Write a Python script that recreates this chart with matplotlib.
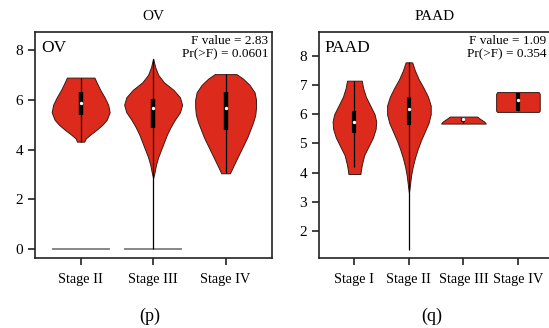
import numpy as np
from matplotlib import pyplot as plt

plt.rcParams['font.family'] = ['Liberation Serif', 'DejaVu Serif']

RED = '#dc2b1c'

# ---- OV panel data (violin profiles) ----
ov_stages = ["Stage II", "Stage III", "Stage IV"]
ov_levels = [
    [4.32, 4.45, 4.6, 4.8, 5.0, 5.2, 5.5, 5.8, 6.1, 6.4, 6.7, 6.89],
    [2.85, 3.1, 3.4, 3.7, 4.0, 4.3, 4.6, 4.9, 5.2, 5.5, 5.8, 6.1, 6.4, 6.7, 7.0, 7.3, 7.65],
    [3.05, 3.3, 3.6, 3.9, 4.2, 4.5, 4.8, 5.1, 5.4, 5.7, 6.0, 6.3, 6.6, 6.85, 7.03],
]
ov_widths = [
    [0.05, 0.07, 0.13, 0.22, 0.30, 0.36, 0.40, 0.38, 0.33, 0.27, 0.22, 0.19],
    [0.0, 0.02, 0.04, 0.07, 0.11, 0.15, 0.19, 0.24, 0.30, 0.37, 0.40, 0.37, 0.28, 0.15, 0.07, 0.03, 0.0],
    [0.06, 0.10, 0.15, 0.20, 0.25, 0.30, 0.34, 0.38, 0.41, 0.42, 0.42, 0.40, 0.33, 0.24, 0.15],
]
ov_q1 = [5.40, 4.88, 4.79]
ov_med = [5.86, 5.68, 5.66]
ov_q3 = [6.30, 6.02, 6.33]
ov_lo = [4.32, 0.0, 3.05]
ov_hi = [6.89, 7.65, 7.03]
ov_zero_lines = [True, True, False]

# ---- PAAD panel data ----
paad_stages = ["Stage I", "Stage II", "Stage III", "Stage IV"]
paad_levels = [
    [3.95, 4.1, 4.3, 4.6, 4.9, 5.2, 5.5, 5.75, 6.0, 6.3, 6.6, 6.9, 7.15],
    [3.3, 3.6, 3.9, 4.2, 4.5, 4.8, 5.1, 5.4, 5.7, 6.0, 6.3, 6.6, 6.9, 7.2, 7.5, 7.78],
    [5.68, 5.75, 5.85, 5.92],
    [6.08, 6.12, 6.7, 6.76],
]
paad_widths = [
    [0.11, 0.12, 0.14, 0.18, 0.26, 0.34, 0.39, 0.40, 0.37, 0.29, 0.21, 0.16, 0.135],
    [0.0, 0.02, 0.04, 0.07, 0.11, 0.16, 0.22, 0.29, 0.36, 0.40, 0.40, 0.35, 0.27, 0.18, 0.11, 0.06],
    [0.41, 0.38, 0.30, 0.25],
    [0.38, 0.40, 0.40, 0.38],
]
paad_q1 = [5.35, 5.62, 5.72, 6.12]
paad_med = [5.72, 6.18, 5.82, 6.50]
paad_q3 = [6.10, 6.60, 5.86, 6.72]
paad_lo = [4.20, 1.35, 5.70, 6.10]
paad_hi = [7.15, 7.78, 5.90, 6.74]


def draw_violins(ax, levels, widths, q1, med, q3, lo, hi, box_w):
    for i in range(len(levels)):
        x = i + 1
        y = np.array(levels[i])
        w = np.array(widths[i])
        ax.fill_betweenx(y, x - w, x + w, facecolor=RED, edgecolor='#3a1a14',
                         linewidth=0.7, zorder=2)
        ax.vlines(x, lo[i], hi[i], color='black', lw=0.9, zorder=3)
        ax.vlines(x, q1[i], q3[i], color='black', lw=box_w, zorder=4)
        ax.scatter([x], [med[i]], s=6, color='white', zorder=5, linewidths=0)


def style(ax, stages, title, fval, pval):
    ax.set_xticks(range(1, len(stages) + 1))
    ax.set_xticklabels(stages)
    ax.tick_params(axis='both', direction='out', length=5, width=1.2,
                   labelsize=11, color='#222222')
    ax.tick_params(axis='x', pad=6, labelsize=10.3)
    for s in ax.spines.values():
        s.set_linewidth(1.2)
        s.set_color('#222222')
    ax.set_title(title, fontsize=11, pad=9)
    ax.text(0.025, 0.965, title, transform=ax.transAxes, ha='left', va='top',
            fontsize=12.5)
    ax.text(0.985, 0.985, "F value = " + fval + "\nPr(>F) = " + pval,
            transform=ax.transAxes, ha='right', va='top', fontsize=9.5,
            linespacing=1.15)


fig = plt.figure(figsize=(5.49, 3.28), dpi=100)

ax1 = fig.add_axes([0.0638, 0.2134, 0.4316, 0.689])
draw_violins(ax1, ov_levels, ov_widths, ov_q1, ov_med, ov_q3, ov_lo, ov_hi, 3.2)
for i, z in enumerate(ov_zero_lines):
    if z:
        ax1.hlines(0, i + 1 - 0.40, i + 1 + 0.40, color='#7f7f7f', lw=1.3, zorder=1)
ax1.set_xlim(0.37, 3.64)
ax1.set_ylim(-0.35, 8.72)
ax1.set_yticks([0, 2, 4, 6, 8])
style(ax1, ov_stages, "OV", "2.83", "0.0601")

ax2 = fig.add_axes([0.581, 0.2134, 0.42, 0.689])
draw_violins(ax2, paad_levels, paad_widths, paad_q1, paad_med, paad_q3,
             paad_lo, paad_hi, 3.0)
ax2.set_xlim(0.35, 4.58)
ax2.set_ylim(1.07, 8.82)
ax2.set_yticks([2, 3, 4, 5, 6, 7, 8])
style(ax2, paad_stages, "PAAD", "1.09", "0.354")

fig.text(150 / 549, 1 - 316 / 328, "(p)", ha='center', va='center', fontsize=13)
fig.text(432 / 549, 1 - 316 / 328, "(q)", ha='center', va='center', fontsize=13)

fig.savefig("out.png", dpi=100)
